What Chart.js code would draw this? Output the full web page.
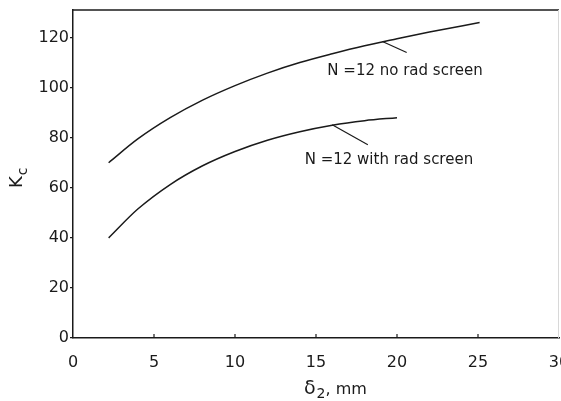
<!DOCTYPE html>
<html>
<head>
<meta charset="utf-8">
<script src="https://cdn.jsdelivr.net/npm/chart.js@4"></script>
<style>
  html, body { margin: 0; padding: 0; background: #fff; }
  #wrap { width: 561px; height: 401px; }
</style>
</head>
<body>
<div id="wrap"><canvas id="kc"></canvas></div>
<script>
// curve values (delta_2 in mm, K_c)
const noScreenX = [2.2, 4, 6, 8, 10, 12, 14, 16, 18, 20, 22, 25.1];
const noScreenY = [70, 79.5, 88, 95, 100.8, 105.8, 110, 113.5, 116.7, 119.5, 122.2, 126];
const withScreenX = [2.2, 4, 6, 8, 10, 12, 14, 16, 18, 20];
const withScreenY = [40, 51.5, 61.3, 68.8, 74.5, 79, 82.4, 85, 86.8, 88];

const xTicks = [0, 5, 10, 15, 20, 25, 30];
const yTicks = [0, 20, 40, 60, 80, 100, 120];

// leader lines and curve labels, in data units
const leaders = [
  { from: [19.1, 118.4], to: [20.6, 114], text: 'N =12 no rad screen', at: [15.7, 106.4] },
  { from: [16.0, 85.2], to: [18.2, 77.2], text: 'N =12 with rad screen', at: [14.3, 71.2] }
];

const ink = '#1a1a1a';
const font = '"DejaVu Sans", sans-serif';

function toPoints(xs, ys) {
  return xs.map((x, i) => ({ x: x, y: ys[i] }));
}

const decor = {
  id: 'decor',
  afterDraw(chart) {
    const c = chart.ctx;
    const a = chart.chartArea;
    const xs = chart.scales.x;
    const ys = chart.scales.y;
    c.save();

    // top border and faint right edge
    c.strokeStyle = ink;
    c.lineWidth = 1.5;
    c.beginPath();
    c.moveTo(a.left, a.top);
    c.lineTo(a.right, a.top);
    c.stroke();
    c.strokeStyle = '#d8d8d8';
    c.lineWidth = 1;
    c.beginPath();
    c.moveTo(a.right - 0.5, a.top);
    c.lineTo(a.right - 0.5, a.bottom);
    c.stroke();

    // x ticks pointing inward
    c.strokeStyle = ink;
    c.lineWidth = 1.2;
    xTicks.slice(1, -1).forEach(v => {
      const px = xs.getPixelForValue(v);
      c.beginPath();
      c.moveTo(px, a.bottom);
      c.lineTo(px, a.bottom - 4);
      c.stroke();
    });

    // leaders + labels
    c.fillStyle = ink;
    c.font = '15px ' + font;
    c.textBaseline = 'middle';
    c.textAlign = 'left';
    leaders.forEach(l => {
      c.beginPath();
      c.moveTo(xs.getPixelForValue(l.from[0]), ys.getPixelForValue(l.from[1]));
      c.lineTo(xs.getPixelForValue(l.to[0]), ys.getPixelForValue(l.to[1]));
      c.stroke();
      c.fillText(l.text, xs.getPixelForValue(l.at[0]), ys.getPixelForValue(l.at[1]));
    });

    // y title K_c, rotated
    c.save();
    c.translate(22, 188);
    c.rotate(-Math.PI / 2);
    c.textBaseline = 'alphabetic';
    c.font = '18px ' + font;
    c.fillText('K', 0, 0);
    const kw = c.measureText('K').width;
    c.font = '14px ' + font;
    c.fillText('c', kw + 1, 5);
    c.restore();

    // x title delta_2, mm
    c.textBaseline = 'alphabetic';
    c.font = '19px ' + font;
    let px = 304;
    c.fillText('δ', px, 394);
    px += c.measureText('δ').width + 1;
    c.font = '14px ' + font;
    c.fillText('2', px, 398);
    px += c.measureText('2').width;
    c.font = '16px ' + font;
    c.fillText(', mm', px, 394);

    c.restore();
  }
};

new Chart(document.getElementById('kc').getContext('2d'), {
  type: 'line',
  data: {
    datasets: [
      {
        label: 'N=12 no rad screen',
        data: toPoints(noScreenX, noScreenY),
        borderColor: ink,
        borderWidth: 1.5,
        pointRadius: 0,
        cubicInterpolationMode: 'monotone',
        fill: false
      },
      {
        label: 'N=12 with rad screen',
        data: toPoints(withScreenX, withScreenY),
        borderColor: ink,
        borderWidth: 1.5,
        pointRadius: 0,
        cubicInterpolationMode: 'monotone',
        fill: false
      }
    ]
  },
  options: {
    responsive: true,
    maintainAspectRatio: false,
    animation: false,
    layout: { padding: { top: 10, right: 2, left: 0, bottom: 0 } },
    plugins: {
      legend: { display: false },
      tooltip: { enabled: false }
    },
    scales: {
      x: {
        type: 'linear',
        min: 0,
        max: 30,
        afterBuildTicks: s => { s.ticks = xTicks.map(v => ({ value: v })); },
        afterFit: s => { s.height = 63; s.paddingLeft = 0; s.paddingRight = 0; },
        grid: { display: false },
        border: { display: true, color: ink, width: 1.5 },
        ticks: {
          autoSkip: false,
          maxRotation: 0,
          padding: 7,
          color: ink,
          font: { family: font, size: 16 }
        }
      },
      y: {
        type: 'linear',
        min: 0,
        max: 131,
        afterBuildTicks: s => { s.ticks = yTicks.map(v => ({ value: v })); },
        afterFit: s => { s.width = 73; s.paddingTop = 0; s.paddingBottom = 0; },
        grid: { drawOnChartArea: false, tickLength: 3, color: ink, lineWidth: 1.2 },
        border: { display: true, color: ink, width: 1.5 },
        ticks: {
          autoSkip: false,
          padding: 1,
          color: ink,
          font: { family: font, size: 16 }
        }
      }
    }
  },
  plugins: [decor]
});
</script>
</body>
</html>
